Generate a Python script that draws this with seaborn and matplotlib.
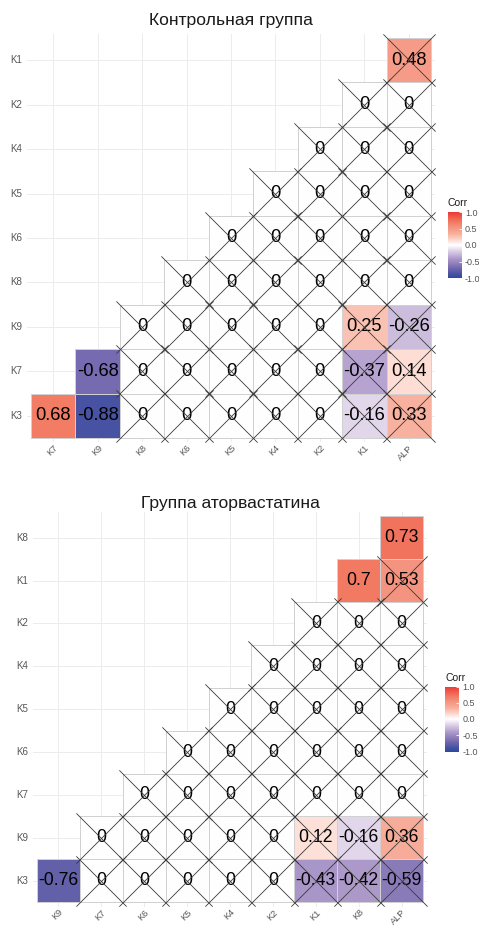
import numpy as np
import pandas as pd
import matplotlib
matplotlib.use("Agg")
import matplotlib.pyplot as plt
import seaborn as sns
from matplotlib.colors import LinearSegmentedColormap

## data: lower triangle of each correlation matrix, rows listed top to bottom
ctrl_title = "Контрольная группа"
ctrl_rows = ["K1", "K2", "K4", "K5", "K6", "K8", "K9", "K7", "K3"]
ctrl_cols = ["K7", "K9", "K8", "K6", "K5", "K4", "K2", "K1", "ALP"]
ctrl_values = [
    [0.48],
    [0, 0],
    [0, 0, 0],
    [0, 0, 0, 0],
    [0, 0, 0, 0, 0],
    [0, 0, 0, 0, 0, 0],
    [0, 0, 0, 0, 0, 0.25, -0.26],
    [-0.68, 0, 0, 0, 0, 0, -0.37, 0.14],
    [0.68, -0.88, 0, 0, 0, 0, 0, -0.16, 0.33],
]
# cells without the cross (significant)
ctrl_sig = [("K3", "K7"), ("K3", "K9"), ("K7", "K9")]

ator_title = "Группа аторвастатина"
ator_rows = ["K8", "K1", "K2", "K4", "K5", "K6", "K7", "K9", "K3"]
ator_cols = ["K9", "K7", "K6", "K5", "K4", "K2", "K1", "K8", "ALP"]
ator_values = [
    [0.73],
    [0.7, 0.53],
    [0, 0, 0],
    [0, 0, 0, 0],
    [0, 0, 0, 0, 0],
    [0, 0, 0, 0, 0, 0],
    [0, 0, 0, 0, 0, 0, 0],
    [0, 0, 0, 0, 0, 0.12, -0.16, 0.36],
    [-0.76, 0, 0, 0, 0, 0, -0.43, -0.42, -0.59],
]
ator_sig = [("K8", "ALP"), ("K1", "K8"), ("K3", "K9")]

plt.rcParams['font.family'] = ['Liberation Sans', 'DejaVu Sans']

cmap = LinearSegmentedColormap.from_list("corr", [
    (0.00, "#2B4B9F"), (0.06, "#4852A2"), (0.16, "#776BB0"),
    (0.30, "#B09CCB"), (0.42, "#E2D6EA"), (0.50, "#FFFFFF"),
    (0.57, "#FDDCD3"), (0.665, "#F8B19E"), (0.765, "#F49480"),
    (0.85, "#F27A62"), (1.00, "#EA3A37")])


def corr_panel(fig, rect, cax_rect, title, title_y, rows, cols, values, sig, fs):
    n = len(rows)
    mat = np.full((n, len(cols)), np.nan)
    for r, vals in enumerate(values):
        start = len(cols) - len(vals)
        mat[r, start:] = vals
    df = pd.DataFrame(mat, index=rows, columns=cols)
    mask = df.isna()
    annot = df.map(lambda v: "" if pd.isna(v) else "{:g}".format(v))

    ax = fig.add_axes(rect)
    cax = fig.add_axes(cax_rect)
    ax.set_axisbelow(True)
    sns.heatmap(df, mask=mask, cmap=cmap, vmin=-1, vmax=1, annot=annot, fmt="",
                annot_kws={"color": "black", "fontsize": fs},
                linewidths=0.5, linecolor="#d0d0d0", cbar_ax=cax, ax=ax)
    # only visible cells get an outline
    mesh = ax.collections[0]
    edge = [(0.82, 0.82, 0.82, 1) if not m else (0, 0, 0, 0)
            for m in mask.values.ravel()]
    mesh.set_edgecolor(edge)

    ax.grid(True, color="#ececec", lw=0.7)
    ax.set_xlim(-0.1, len(cols) + 0.1)
    ax.set_ylim(n + 0.1, -0.1)
    ax.tick_params(length=0, labelsize=7, labelcolor="#555555", pad=3)
    ax.tick_params(axis="x", pad=0.8, labelsize=6.6)
    ax.set_xticklabels(cols, rotation=45, ha="right", rotation_mode="anchor")
    ax.set_yticklabels(rows, rotation=0)
    ax.set_xlabel("")
    ax.set_ylabel("")

    # crosses on non-significant cells
    xs, ys = [], []
    for r, row in enumerate(rows):
        for c, col in enumerate(cols):
            if not mask.iloc[r, c] and (row, col) not in sig:
                xs.append(c + 0.5)
                ys.append(r + 0.5)
    ax.scatter(xs, ys, marker="x", s=(fs * 2.85) ** 2, color="#3a3a3a",
               linewidths=0.6, clip_on=False, zorder=5)

    fig.text(rect[0] + rect[2] / 2, title_y, title, ha="center", va="center",
             fontsize=12.6, color="#1a1a1a")

    cb = mesh.colorbar
    cb.set_ticks([-1, -0.5, 0, 0.5, 1])
    cb.set_ticklabels(["-1.0", "-0.5", "0.0", "0.5", "1.0"])
    cb.outline.set_visible(False)
    cax.tick_params(direction="in", length=2.5, color="white", width=0.6,
                    labelsize=6.5, labelcolor="#555555", pad=2.5)
    cax.set_title("Corr", fontsize=7.5, loc="left", pad=4, color="#1a1a1a")
    return ax


W, H = 479, 926
fig = plt.figure(figsize=(W / 100, H / 100), dpi=100)
fig.patch.set_facecolor("white")

corr_panel(fig, [26.6 / W, 1 - 442.4 / H, 408.8 / W, 408.8 / H],
           [447.5 / W, 1 - 278 / H, 14 / W, 66 / H],
           ctrl_title, 1 - 21 / H, ctrl_rows, ctrl_cols, ctrl_values, ctrl_sig, 13.2)
corr_panel(fig, [32.7 / W, 1 - 906.5 / H, 394.6 / W, 394.6 / H],
           [445 / W, 1 - 751.5 / H, 14 / W, 65 / H],
           ator_title, 1 - 503 / H, ator_rows, ator_cols, ator_values, ator_sig, 12.7)

plt.savefig("out.png", dpi=100)
